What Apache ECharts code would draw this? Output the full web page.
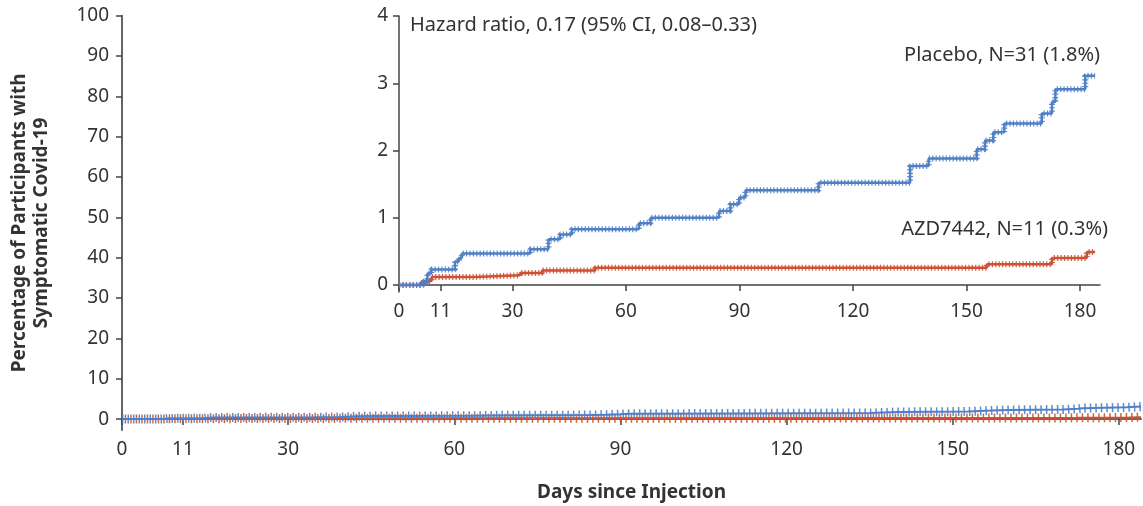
<!DOCTYPE html>
<html>
<head>
<meta charset="utf-8">
<script src="https://cdn.jsdelivr.net/npm/echarts@6/dist/echarts.min.js"></script>
<style>
  html, body { margin: 0; padding: 0; background: #fff; }
  #chart { width: 1143px; height: 506px; }
</style>
</head>
<body>
<div id="chart"></div>
<script>
// tick labels
var dayTicks = [0, 11, 30, 60, 90, 120, 150, 180];
var mainPctTicks = [0, 10, 20, 30, 40, 50, 60, 70, 80, 90, 100];
var insetPctTicks = [0, 1, 2, 3, 4];

// Kaplan-Meier steps: day of event, cumulative % after it
var placeboDays = [0, 6.4, 7.5, 8.5, 14.8, 15.8, 16.6, 34.7, 39.5, 42.6, 45.7, 63.4, 66.5, 84.6, 87.6, 89.9, 91.6, 110.9, 135.1, 140, 152.7, 154.9, 157.1, 160, 169.9, 172.6, 173.5, 181.4, 184];
var placeboPct = [0, 0.05, 0.17, 0.23, 0.35, 0.40, 0.47, 0.53, 0.68, 0.75, 0.83, 0.92, 1.0, 1.1, 1.2, 1.3, 1.41, 1.52, 1.77, 1.88, 2.02, 2.15, 2.27, 2.4, 2.55, 2.72, 2.91, 3.11, 3.11];
var azdDays = [0, 6.0, 6.9, 8.6, 20.1, 32, 37.8, 51.9, 155.4, 172.6, 181.8, 184];
var azdPct = [0, 0.03, 0.06, 0.12, 0.145, 0.18, 0.215, 0.255, 0.31, 0.40, 0.49, 0.49];

var blue = '#4f7fc6';
var red = '#cc5233';
var txt = '#333333';
var font = 'Noto Sans';

function pairs(xs, ys) {
    return xs.map(function (x, i) { return [x, ys[i]]; });
}
var placebo = pairs(placeboDays, placeboPct);
var azd = pairs(azdDays, azdPct);

// step line plus a wide dashed copy that gives the censoring ticks
function km(data, color, idx, w, tick, dash, offset) {
    return [{
        type: 'line', step: 'end', data: data, xAxisIndex: idx, yAxisIndex: idx,
        showSymbol: false, silent: true,
        lineStyle: { color: color, width: w }
    }, {
        type: 'line', step: 'end', data: data, xAxisIndex: idx, yAxisIndex: idx,
        showSymbol: false, silent: true,
        lineStyle: { color: color, width: tick, type: dash, dashOffset: offset, opacity: 0.9, cap: 'butt' }
    }];
}

function xAx(idx, max, margin) {
    return {
        type: 'value', gridIndex: idx, min: 0, max: max,
        axisLine: { lineStyle: { color: idx ? '#444' : '#666', width: idx ? 1.5 : 2 } },
        axisTick: { customValues: dayTicks, length: 6, lineStyle: { color: '#444', width: 1.5 } },
        axisLabel: { customValues: dayTicks, margin: margin, color: txt, fontSize: 19, fontFamily: font },
        splitLine: { show: false }
    };
}

function yAx(idx, min, max, ticks, margin) {
    return {
        type: 'value', gridIndex: idx, min: min, max: max,
        axisLine: { show: true, lineStyle: { color: idx ? '#444' : '#666', width: idx ? 1.5 : 2 } },
        axisTick: { show: true, customValues: ticks, length: 6, lineStyle: { color: '#444', width: 1.5 } },
        axisLabel: { customValues: ticks, margin: margin, color: txt, fontSize: 19, fontFamily: font },
        splitLine: { show: false }
    };
}

var chart = echarts.init(document.getElementById('chart'));

var mainX = xAx(0, 184, 10);
mainX.name = 'Days since Injection';
mainX.nameLocation = 'middle';
mainX.nameGap = 53;
mainX.nameTextStyle = { color: txt, fontSize: 19, fontWeight: 'bold', fontFamily: font };

var mainY = yAx(0, -2.7, 100, mainPctTicks, 13);
mainY.name = 'Percentage of Participants with\nSymptomatic Covid-19';
mainY.nameLocation = 'middle';
mainY.nameGap = 69;
mainY.nameTextStyle = { color: txt, fontSize: 19, fontWeight: 'bold', fontFamily: font, lineHeight: 22 };

var option = {
    animation: false,
    grid: [
        { left: 122, right: 2, top: 15.7, bottom: 76, outerBoundsMode: 'none' },
        { left: 399, right: 43, top: 16, bottom: 214, outerBoundsMode: 'none' }
    ],
    xAxis: [mainX, xAx(1, 185.3, 10)],
    yAxis: [mainY, yAx(1, -0.104, 4, insetPctTicks, 11)],
    series: [].concat(
        km(azd, red, 0, 2, 9, [1.5, 4], 2.8),
        km(placebo, blue, 0, 2, 9, [1.5, 4], 0),
        km(azd, red, 1, 2.5, 6, [1.2, 2.2], 0),
        km(placebo, blue, 1, 2.5, 6, [1.2, 2.2], 0)
    ),
    graphic: [
        { type: 'text', left: 410, top: 15, style: { text: 'Hazard ratio, 0.17 (95% CI, 0.08–0.33)', fill: txt, font: '20px "Noto Sans"' } },
        { type: 'text', right: 43, top: 45, style: { text: 'Placebo, N=31 (1.8%)', fill: txt, font: '20px "Noto Sans"' } },
        { type: 'text', right: 35, top: 219, style: { text: 'AZD7442, N=11 (0.3%)', fill: txt, font: '20px "Noto Sans"' } }
    ]
};

chart.setOption(option);
</script>
</body>
</html>
